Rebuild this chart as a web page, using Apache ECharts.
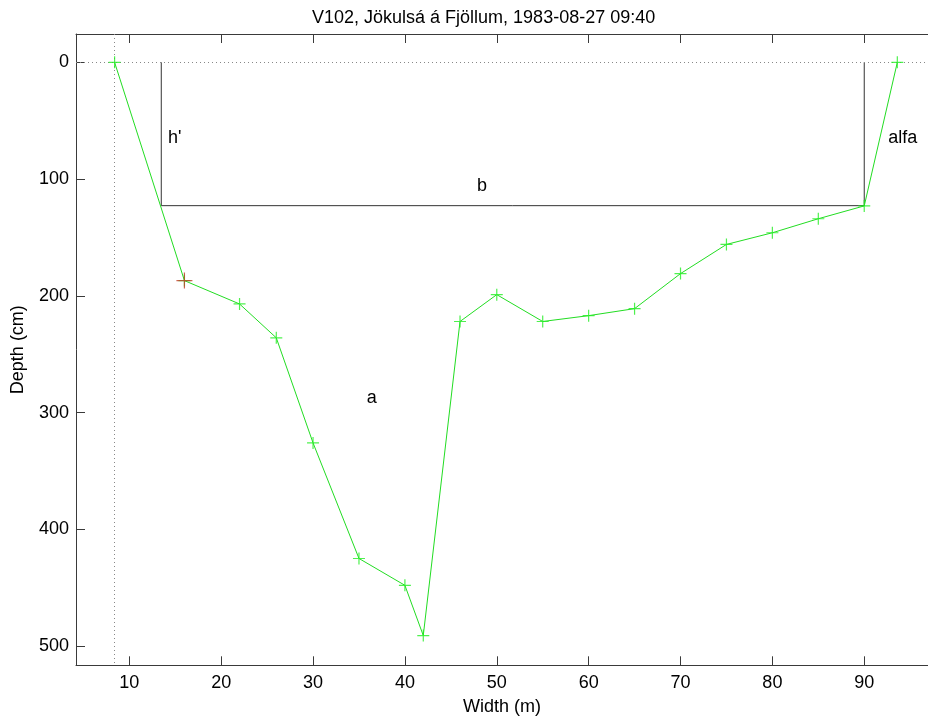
<!DOCTYPE html>
<html>
<head>
<meta charset="utf-8">
<script src="https://cdn.jsdelivr.net/npm/echarts@6/dist/echarts.min.js"></script>
<style>html,body{margin:0;padding:0;background:#fff}#c{width:928px;height:725px}</style>
</head>
<body>
<div id="c"></div>
<script>
// Profile data: width (m) and depth (cm)
var widths = [8.4, 16, 22, 26, 30, 35, 40, 42, 46, 50, 55, 60, 65, 70, 75, 80, 85, 90, 93.6];
var depths = [0, 187, 207, 236, 326, 425, 448, 491, 222, 199, 222, 217, 211, 181, 156, 146, 134, 123, 0];
// highlighted (red) point
var redWidth = [16];
var redDepth = [187];
// h' / b rectangle outline
var boxWidths = [13.48, 13.48, 90, 90];
var boxDepths = [0, 122.8, 122.8, 0];
// reference lines
var zeroDepth = 0;
var leftEdge = 8.4;
// tick labels
var xTicks = [10, 20, 30, 40, 50, 60, 70, 80, 90];
var yTicks = [0, 100, 200, 300, 400, 500];
// annotations
var annoText = ["h'", "b", "a", "alfa"];
var annoX = [14.94, 48.4, 36.4, 94.2];
var annoY = [65, 106, 287.6, 65];

var FONT = '"Liberation Sans", Arial, sans-serif';
var AX = '#3a3a3a';
var plus = 'path://M5,0L5,10M0,5L10,5';

var chart = echarts.init(document.getElementById('c'), null, {renderer: 'canvas'});

function pairs(xs, ys) { return xs.map(function (x, i) { return [x, ys[i]]; }); }

var xCommon = {
  type: 'value', min: 4.198, max: 96.94,
  axisLine: {show: true, onZero: false, lineStyle: {color: AX, width: 1}},
  axisTick: {show: true, inside: true, length: 9, customValues: xTicks, lineStyle: {color: AX}},
  splitLine: {show: false}
};
var yCommon = {
  type: 'value', inverse: true, min: -24.24, max: 516.5,
  axisLine: {show: true, onZero: false, lineStyle: {color: AX, width: 1}},
  axisTick: {show: true, inside: true, length: 9, customValues: yTicks, lineStyle: {color: AX}},
  splitLine: {show: false}
};

var option = {
  animation: false,
  backgroundColor: '#fff',
  title: {
    text: 'V102, Jökulsá á Fjöllum, 1983-08-27 09:40',
    left: 307, top: 4,
    textStyle: {fontFamily: FONT, fontSize: 18, fontWeight: 'normal', color: '#000'}
  },
  grid: {left: 76, top: 34, right: 0, bottom: 59.7, containLabel: false},
  xAxis: [
    Object.assign({}, xCommon, {
      position: 'bottom',
      name: 'Width (m)', nameLocation: 'middle', nameGap: 33,
      nameTextStyle: {fontFamily: FONT, fontSize: 18, color: '#000'},
      axisLabel: {show: true, customValues: xTicks, margin: 9, fontFamily: FONT, fontSize: 18, color: '#000'}
    }),
    Object.assign({}, xCommon, {position: 'top', axisLabel: {show: false}})
  ],
  yAxis: [
    Object.assign({}, yCommon, {
      position: 'left',
      name: 'Depth (cm)', nameLocation: 'middle', nameGap: 49,
      nameTextStyle: {fontFamily: FONT, fontSize: 18, color: '#000'},
      axisLabel: {show: true, customValues: yTicks, margin: 7, fontFamily: FONT, fontSize: 18, color: '#000'}
    })
  ],
  series: [
    {
      type: 'line', name: 'ref', data: [], silent: true,
      markLine: {
        symbol: 'none', silent: true, label: {show: false},
        lineStyle: {color: '#888', type: [1, 3], width: 1},
        data: [{yAxis: zeroDepth}, {xAxis: leftEdge}]
      }
    },
    {
      type: 'line', name: 'box', data: pairs(boxWidths, boxDepths),
      showSymbol: false, symbol: 'none', silent: true,
      lineStyle: {color: '#333', width: 1}, z: 3
    },
    {
      type: 'line', name: 'profile', data: pairs(widths, depths),
      showSymbol: false, symbol: 'none', silent: true,
      lineStyle: {color: '#22dd22', width: 1}, z: 4
    },
    {
      type: 'scatter', name: 'markers', data: pairs(widths, depths),
      symbol: plus, symbolSize: 12, silent: true,
      itemStyle: {color: 'none', borderColor: '#22ee22', borderWidth: 1.2}, z: 5
    },
    {
      type: 'scatter', name: 'red', data: pairs(redWidth, redDepth),
      symbol: plus, symbolSize: 16, silent: true,
      itemStyle: {color: 'none', borderColor: '#c03c28', borderWidth: 1.2}, z: 6
    },
    {
      type: 'scatter', name: 'labels',
      data: annoText.map(function (t, i) { return {value: [annoX[i], annoY[i]], name: t}; }),
      symbolSize: 0, silent: true,
      itemStyle: {opacity: 1},
      label: {show: true, position: 'inside', formatter: function (p) { return p.name; },
              fontFamily: FONT, fontSize: 18, color: '#000', textBorderWidth: 0, opacity: 1},
      z: 7
    }
  ]
};
chart.setOption(option);
</script>
</body>
</html>
